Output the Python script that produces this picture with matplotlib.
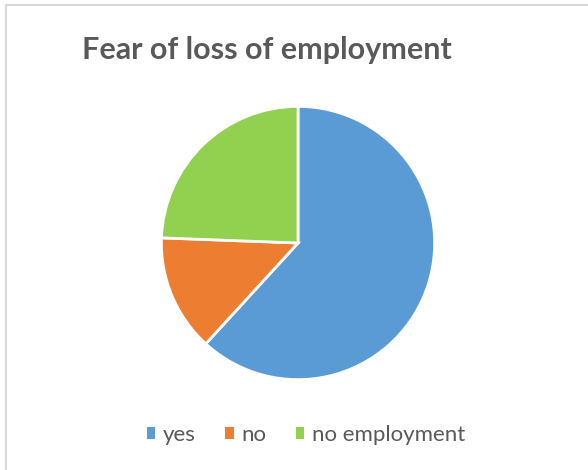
import matplotlib.pyplot as plt
from matplotlib.lines import Line2D
from matplotlib.patches import Patch

labels = ['yes', 'no', 'no employment']
shares = [61.8, 13.8, 24.4]
colors = ['#5B9BD5', '#ED7D31', '#92D050']

W, H = 588, 470
fig = plt.figure(figsize=(W / 100, H / 100), dpi=100)

# pie centred at (298, 243) px with radius ~137 px
cx, cy, r = 298, 243, 138
ax = fig.add_axes([(cx - r) / W, (H - cy - r) / H, 2 * r / W, 2 * r / H])
ax.pie(shares, colors=colors, startangle=90, counterclock=False, radius=1,
       wedgeprops=dict(edgecolor='white', linewidth=2))
ax.set_xlim(-1.01, 1.01)
ax.set_ylim(-1.01, 1.01)
ax.set_aspect('equal')
ax.axis('off')

# chart frame (only top and left edges fall inside the image)
fig.add_artist(Line2D([6 / W, 1], [1 - 5 / H, 1 - 5 / H], color='#D9D9D9', lw=1.5))
fig.add_artist(Line2D([6 / W, 6 / W], [0, 1 - 5 / H], color='#D9D9D9', lw=1.5))

fig.text(267 / W, 1 - 50 / H, 'Fear of loss of employment', ha='center', va='center',
         fontsize=22, fontweight='bold', color='#595959', family='Lato')

handles = [Patch(facecolor=c, edgecolor='none') for c in colors]
fig.legend(handles, labels, loc='center', bbox_to_anchor=(306 / W, 1 - 435 / H),
           ncol=3, frameon=False, handlelength=0.4, handleheight=0.4,
           handletextpad=0.35, columnspacing=1.3,
           prop=dict(family='Lato', size=16), labelcolor='#595959')

fig.savefig('out.png', dpi=100, facecolor='white')
